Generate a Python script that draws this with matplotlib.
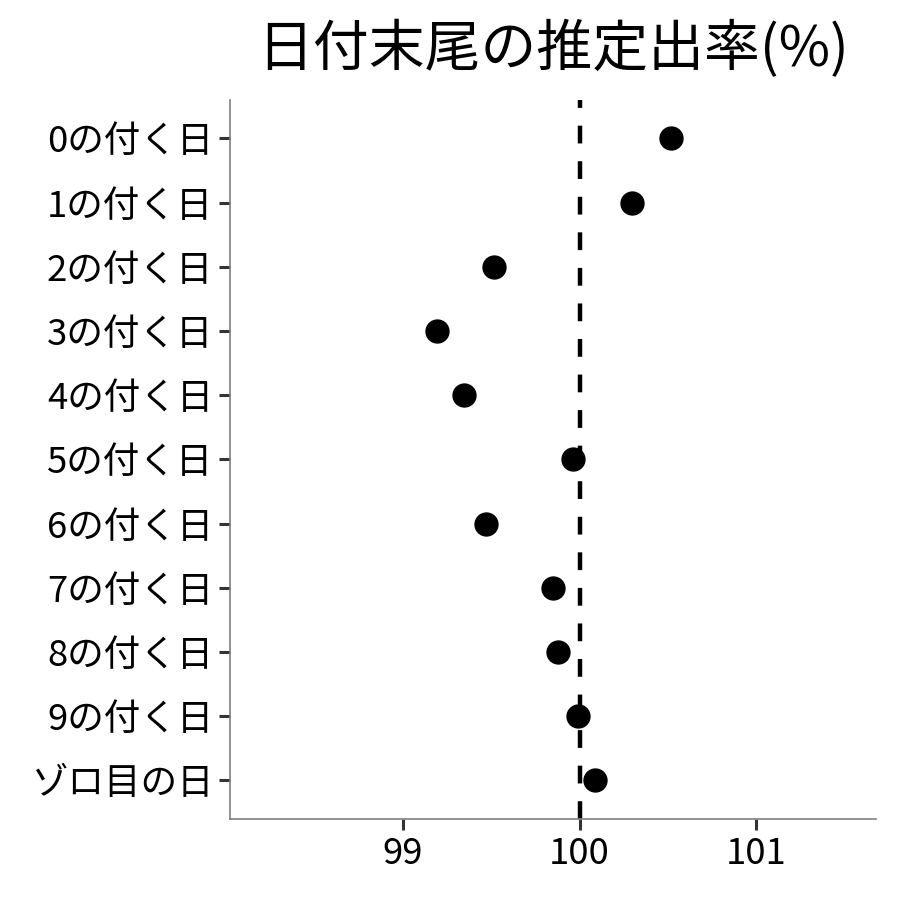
import matplotlib
matplotlib.use("Agg")
import matplotlib.pyplot as plt

plt.rcParams['font.family'] = ['Noto Sans CJK JP', 'DejaVu Sans']

# データ(上から順)
labels = ["0の付く日", "1の付く日", "2の付く日", "3の付く日", "4の付く日",
          "5の付く日", "6の付く日", "7の付く日", "8の付く日", "9の付く日",
          "ゾロ目の日"]
rates = [100.52, 100.295, 99.515, 99.19, 99.345,
         99.965, 99.47, 99.85, 99.88, 99.99, 100.09]
x_ticks = [99, 100, 101]

fig = plt.figure(figsize=(9, 9), dpi=100)
ax = fig.add_axes([0.2555, 0.09, 0.718, 0.799])

pos = list(range(len(labels)))[::-1]
ax.axvline(100, color="black", linestyle=(0, (4.0, 4.0)), linewidth=3.2, zorder=1)
ax.plot(rates, pos, "o", color="black", markersize=16.5, zorder=2)

ax.set_yticks(pos)
ax.set_yticklabels(labels)
ax.set_xticks(x_ticks)
ax.set_xlim(98.02, 101.68)
ax.set_ylim(-0.6, len(labels) - 0.4)

for s in ["top", "right"]:
    ax.spines[s].set_visible(False)
for s in ["left", "bottom"]:
    ax.spines[s].set_color("#7f7f7f")
    ax.spines[s].set_linewidth(1.2)
ax.tick_params(axis="both", colors="#333333", width=2.2, length=8,
               labelsize=26.3, labelcolor="black", pad=4)

ax.set_title("日付末尾の推定出率(%)", fontsize=40.2, pad=24)

fig.savefig("out.png", dpi=100)
